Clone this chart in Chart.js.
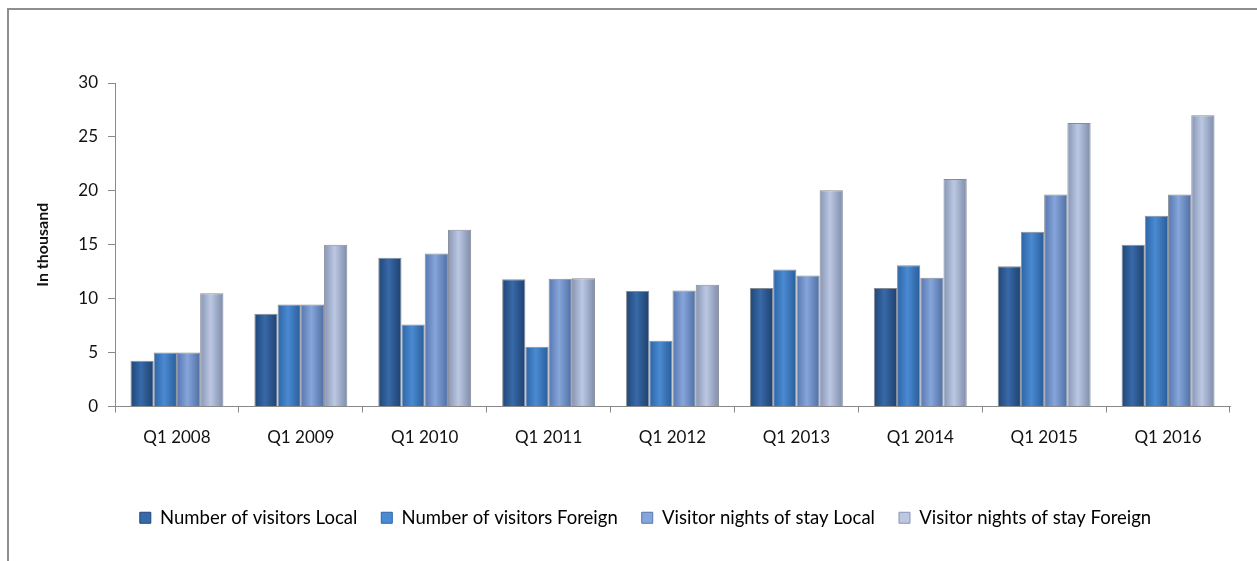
<!DOCTYPE html>
<html>
<head>
<meta charset="utf-8">
<script src="https://cdn.jsdelivr.net/npm/chart.js@4.4.0/dist/chart.umd.min.js"></script>
<style>
  body { margin: 0; background: #fff; }
  #wrap { position: relative; width: 1257px; height: 561px; }
  #frame { position: absolute; left: 7px; top: 8px; right: 0; bottom: 0;
           border-top: 2px solid #8e8e8e; border-left: 2px solid #8e8e8e; pointer-events: none; }
</style>
</head>
<body>
<div id="wrap">
  <canvas id="chart" width="1257" height="561"></canvas>
  <div id="frame"></div>
</div>
<script>
const quarters = ['Q1 2008', 'Q1 2009', 'Q1 2010', 'Q1 2011', 'Q1 2012', 'Q1 2013', 'Q1 2014', 'Q1 2015', 'Q1 2016'];
const visitorsLocal = [4.25, 8.6, 13.8, 11.8, 10.7, 11.0, 11.0, 13.0, 15.0];
const visitorsForeign = [5.0, 9.45, 7.6, 5.55, 6.1, 12.7, 13.1, 16.2, 17.7];
const nightsLocal = [5.0, 9.45, 14.2, 11.85, 10.75, 12.15, 11.95, 19.65, 19.65];
const nightsForeign = [10.5, 15.0, 16.4, 11.9, 11.3, 20.05, 21.1, 26.3, 27.0];
const seriesNames = ['Number of visitors Local', 'Number of visitors Foreign', 'Visitor nights of stay Local', 'Visitor nights of stay Foreign'];

// left edge / middle / right edge colours for the cylinder look
const shades = [
    ['#1f4677', '#3869a8', '#1d416e'],
    ['#2c64a6', '#4a8ad2', '#285c99'],
    ['#5576b0', '#86a5da', '#4f6ea4'],
    ['#8695b5', '#bcc8e2', '#7d8cab']
];

const catPct = 0.75;

function barFill(ctx) {
    const chart = ctx.chart;
    const sc = chart.scales.x;
    const shade = shades[ctx.datasetIndex];
    if (!sc || ctx.dataIndex === undefined) return shade[1];
    const catW = sc.width / quarters.length;
    const barW = catW * catPct / 4;
    const left = sc.getPixelForValue(ctx.dataIndex) - catW * catPct / 2 + ctx.datasetIndex * barW;
    const g = chart.ctx.createLinearGradient(left, 0, left + barW, 0);
    g.addColorStop(0, shade[0]);
    g.addColorStop(0.45, shade[1]);
    g.addColorStop(1, shade[2]);
    return g;
}

const datasets = [visitorsLocal, visitorsForeign, nightsLocal, nightsForeign].map((vals, i) => ({
    label: seriesNames[i],
    data: vals,
    backgroundColor: barFill,
    borderColor: 'rgba(95,100,115,0.75)',
    borderWidth: 1,
    borderSkipped: 'bottom',
    barPercentage: 1,
    categoryPercentage: catPct
}));

// nudge the legend a little to the right, like the original
const legendShift = {
    id: 'legendShift',
    afterLayout(chart) {
        chart.legend.left += 14;
        chart.legend.right += 14;
    }
};

const ctx = document.getElementById('chart').getContext('2d');
new Chart(ctx, {
    type: 'bar',
    data: { labels: quarters, datasets: datasets },
    plugins: [legendShift],
    options: {
        responsive: false,
        animation: false,
        layout: { padding: { left: 33, right: 27, top: 83, bottom: 24 } },
        scales: {
            x: {
                grid: { display: true, drawOnChartArea: false, offset: true, tickLength: 6, tickColor: '#8a8a8a' },
                border: { color: '#8a8a8a', width: 1 },
                ticks: { color: '#111', font: { family: 'Lato', size: 17 }, padding: 15 },
                afterFit: s => { s.height = 78; }
            },
            y: {
                min: 0, max: 30,
                ticks: { stepSize: 5, color: '#111', font: { family: 'Lato', size: 17 }, padding: 10 },
                grid: { display: true, drawOnChartArea: false, tickLength: 7, tickColor: '#8a8a8a' },
                border: { color: '#8a8a8a', width: 1 },
                title: { display: true, text: 'In thousand', color: '#111',
                         font: { family: 'Lato', size: 16, weight: 'bold' }, padding: 0 },
                afterFit: s => { s.width = 82; }
            }
        },
        plugins: {
            legend: {
                position: 'bottom',
                labels: {
                    color: '#111',
                    font: { family: 'Lato', size: 18.5 },
                    boxWidth: 11, boxHeight: 11, padding: 24,
                    generateLabels: chart => chart.data.datasets.map((d, i) => ({
                        text: d.label,
                        fillStyle: shades[i][1],
                        strokeStyle: shades[i][0],
                        lineWidth: 1,
                        datasetIndex: i
                    }))
                }
            },
            tooltip: { enabled: false }
        }
    }
});
</script>
</body>
</html>
